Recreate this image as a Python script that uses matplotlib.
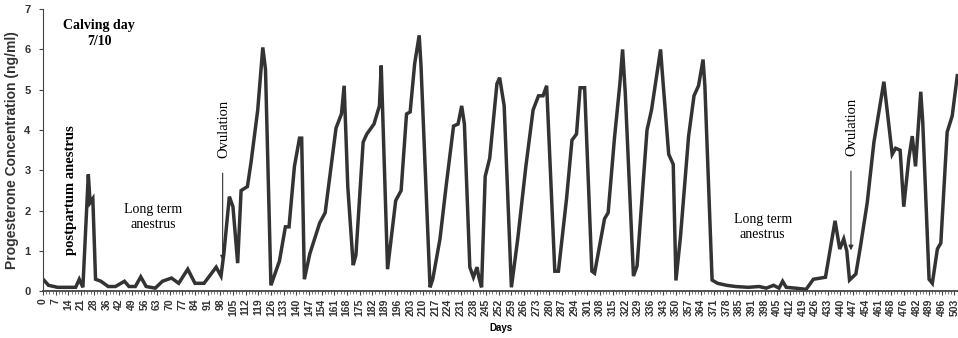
import matplotlib
matplotlib.use("Agg")
import matplotlib.pyplot as plt
from matplotlib.ticker import MultipleLocator

# sampling days and progesterone values (ng/ml)
days = [0, 3, 8, 14, 18, 20, 22, 25, 26, 27.5, 29, 32, 36, 40, 45, 47.5, 51, 54, 57, 62,
        66, 71, 75, 80, 84, 89, 95.7, 98.4, 100, 103, 105, 107.6, 109.5, 113, 115, 118.7,
        121.5, 123, 126, 130.7, 134, 136, 139, 141.8, 143, 144.5, 147.5, 153, 156, 162,
        165, 166.5, 168.5, 171.5, 173, 177, 179, 183, 186, 187, 190.5, 195, 198, 201, 203,
        205.5, 208, 209, 214, 215.5, 219.5, 223, 227, 229.5, 231.5, 233, 236, 238, 240,
        241, 242.5, 244.5, 247, 251, 252.5, 255, 259, 262.5, 267, 271, 274, 276.5, 278.5,
        283, 285, 289.5, 292.5, 295, 297, 299.5, 303.5, 305, 310.5, 312.5, 316, 319, 320.5,
        322, 326.5, 328.5, 334, 336.5, 341.5, 342.5, 346, 348.5, 350, 352.5, 357, 360,
        362.5, 365, 366, 370, 373, 378, 383, 390, 396, 400, 404, 407, 409, 411, 416, 422,
        426, 432.7, 438, 440.6, 442.8, 444.5, 446, 449.5, 452, 455.8, 459.5, 465, 469.6,
        471.5, 474, 476, 478.8, 480.7, 482.5, 485.4, 486.5, 490, 491.8, 494.6, 496.5,
        500, 502.8, 505.6]
prog = [0.3, 0.15, 0.1, 0.1, 0.1, 0.3, 0.1, 2.9, 2.2, 2.3, 0.3, 0.25, 0.12, 0.12, 0.25,
        0.12, 0.12, 0.36, 0.12, 0.08, 0.25, 0.33, 0.2, 0.55, 0.2, 0.2, 0.6, 0.38, 0.95,
        2.35, 2.1, 0.7, 2.5, 2.6, 3.2, 4.5, 6.05, 5.5, 0.15, 0.75, 1.6, 1.6, 3.1, 3.8,
        3.8, 0.3, 0.93, 1.7, 1.95, 4.05, 4.4, 5.1, 2.6, 0.65, 0.9, 3.7, 3.9, 4.15, 4.6,
        5.6, 0.55, 2.25, 2.5, 4.4, 4.45, 5.65, 6.35, 5.6, 0.1, 0.3, 1.3, 2.65, 4.1, 4.15,
        4.6, 4.15, 0.6, 0.35, 0.6, 0.35, 0.1, 2.85, 3.3, 5.15, 5.3, 4.6, 0.1, 1.3, 3.1,
        4.5, 4.85, 4.85, 5.1, 0.5, 0.5, 2.3, 3.75, 3.9, 5.05, 5.05, 0.5, 0.45, 1.8, 1.95,
        3.8, 5.15, 6.0, 4.9, 0.38, 0.63, 4.0, 4.5, 6.0, 5.4, 3.4, 3.15, 0.27, 1.35, 3.85,
        4.85, 5.1, 5.75, 5.1, 0.28, 0.2, 0.15, 0.12, 0.1, 0.12, 0.08, 0.15, 0.08, 0.25,
        0.1, 0.08, 0.05, 0.3, 0.35, 1.75, 1.05, 1.3, 1.0, 0.28, 0.43, 1.1, 2.2, 3.7, 5.2,
        3.4, 3.55, 3.5, 2.1, 3.3, 3.85, 3.1, 4.95, 4.2, 0.3, 0.2, 1.05, 1.2, 3.95, 4.35,
        5.35]

tick_labels = ["0", "7", "14", "21", "28", "36", "42", "49", "56", "63", "70", "77", "84",
               "91", "98", "105", "112", "119", "126", "133", "140", "147", "154", "161",
               "168", "175", "182", "189", "196", "203", "210", "217", "224", "231", "238",
               "245", "252", "259", "266", "273", "280", "287", "294", "301", "308", "315",
               "322", "329", "336", "343", "350", "357", "364", "371", "378", "385", "391",
               "398", "405", "412", "419", "426", "433", "440", "447", "454", "461", "468",
               "476", "482", "489", "496", "503"]
tick_pos = [7 * i for i in range(len(tick_labels))]

serif = "Liberation Serif"
sans = "Liberation Sans"

fig = plt.figure(figsize=(9.58, 3.38), dpi=100)
ax = fig.add_axes([0.045, 0.138, 0.955, 0.835])

ax.plot(days, prog, color="#333333", lw=2.5, solid_joinstyle="miter")

ax.set_xlim(0, 506)
ax.set_ylim(0, 7)
ax.spines["top"].set_visible(False)
ax.spines["right"].set_visible(False)
ax.spines["left"].set_color("#444444")
ax.spines["bottom"].set_color("#444444")
ax.spines["bottom"].set_linewidth(1.3)

ax.set_xticks(tick_pos)
ax.set_xticklabels(tick_labels, rotation=90, fontsize=7.5, fontweight="bold",
                   family=sans, color="#333333")
ax.xaxis.set_minor_locator(MultipleLocator(1.75))
ax.tick_params(axis="x", which="major", length=3, width=0.8, pad=2, color="#444444")
ax.tick_params(axis="x", which="minor", length=2, width=0.6, color="#666666")
ax.set_yticks(range(8))
ax.set_yticklabels([str(v) for v in range(8)], fontsize=8, fontweight="bold",
                   family=sans, color="#333333")
ax.tick_params(axis="y", length=3, width=0.8, pad=6, color="#444444")

ax.set_xlabel("Days", fontsize=7, fontweight="bold", family=sans, labelpad=5)
ax.set_ylabel("Progesterone Concentration (ng/ml)", fontsize=10, fontweight="bold",
              family=sans, labelpad=4, color="#333333")

# annotations
ax.text(31, 6.4, "Calving day\n7/10", ha="center", va="center", fontsize=10,
        fontweight="bold", family=serif, linespacing=1.3)
ax.text(15, 2.5, "postpartum anestrus", rotation=90, ha="center", va="center",
        fontsize=10.5, fontweight="bold", family=serif)
ax.text(61, 1.85, "Long term\nanestrus", ha="center", va="center", fontsize=10,
        family=serif, linespacing=1.2)
ax.text(398, 1.6, "Long term\nanestrus", ha="center", va="center", fontsize=10,
        family=serif, linespacing=1.2)

for x0, top, tip in [(100, 4.75, 0.7), (447.5, 4.8, 0.95)]:
    ax.text(x0, top, "Ovulation", rotation=90, ha="center", va="top", fontsize=10.5,
            family=serif)
    ax.annotate("", xy=(x0 - 0.7, tip), xytext=(x0 - 0.7, top - 1.75),
                arrowprops=dict(arrowstyle="-|>", color="#333333", lw=0.8,
                                mutation_scale=7))

fig.savefig("out.png", dpi=100)
